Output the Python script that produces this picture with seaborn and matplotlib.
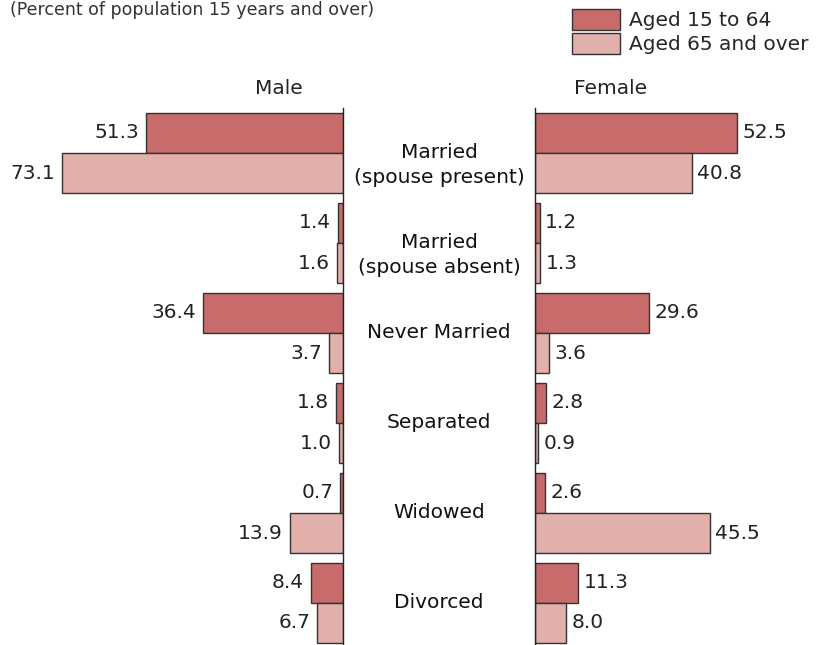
import pandas as pd
import matplotlib
matplotlib.use("Agg")
import matplotlib.pyplot as plt
import seaborn as sns
from matplotlib.patches import Patch

# data
categories = ["Married\n(spouse present)", "Married\n(spouse absent)", "Never Married",
              "Separated", "Widowed", "Divorced"]
groups = ["Aged 15 to 64", "Aged 65 and over"]
male_1564 = [51.3, 1.4, 36.4, 1.8, 0.7, 8.4]
male_65 = [73.1, 1.6, 3.7, 1.0, 13.9, 6.7]
female_1564 = [52.5, 1.2, 29.6, 2.8, 2.6, 11.3]
female_65 = [40.8, 1.3, 3.6, 0.9, 45.5, 8.0]

colors = ["#c86b6b", "#e2b0aa"]
edge = "#333333"
fs = 14.5

def long_df(a, b):
    return pd.DataFrame({
        "cat": categories * 2,
        "group": [groups[0]] * len(a) + [groups[1]] * len(b),
        "value": a + b,
    })

male = long_df(male_1564, male_65)
female = long_df(female_1564, female_65)

sns.set_style("white")
plt.rcParams["font.family"] = ["DejaVu Sans"]

W, H = 819, 645
fig = plt.figure(figsize=(W / 100, H / 100), dpi=100)

top_px, bot_px = 108, 645
px_per_unit = 3.84
mzero, fzero = 343, 535
mleft = 0
ax_m = fig.add_axes([mleft / W, 1 - bot_px / H, (mzero - mleft) / W, (bot_px - top_px) / H])
ax_f = fig.add_axes([fzero / W, 1 - bot_px / H, (W - fzero) / W, (bot_px - top_px) / H])

ylim = (5.467, -0.5)
for ax, df, zero_lim in [(ax_m, male, (mzero - mleft) / px_per_unit),
                         (ax_f, female, (W - fzero) / px_per_unit)]:
    sns.barplot(data=df, y="cat", x="value", hue="group", palette=colors,
                orient="h", width=0.89, edgecolor=edge, linewidth=1,
                saturation=1, legend=False, ax=ax)
    ax.set_ylim(*ylim)
    ax.set_xlim(0, zero_lim)
    ax.set_xlabel("")
    ax.set_ylabel("")
    ax.set_xticks([])
    ax.set_yticks([])
    for s in ax.spines.values():
        s.set_visible(False)

ax_m.invert_xaxis()

# value labels
for cont in ax_f.containers:
    ax_f.bar_label(cont, fmt="%.1f", padding=4, fontsize=fs, color="#222222")
for cont in ax_m.containers:
    for t in ax_m.bar_label(cont, fmt="%.1f", padding=4, fontsize=fs, color="#222222"):
        t.set_ha("right")
        t.xyann = (-5, 0)

ax_m.spines["right"].set_visible(True)
ax_m.spines["right"].set_color("#222222")
ax_m.spines["right"].set_linewidth(1)
ax_f.spines["left"].set_visible(True)
ax_f.spines["left"].set_color("#222222")
ax_f.spines["left"].set_linewidth(1)

# category labels in the middle (first line sits on the group centre)
for i, c in enumerate(categories):
    ypx = 153 + 90 * i + (12 if "\n" in c else 0)
    fig.text((mzero + fzero) / 2 / W, 1 - ypx / H, c, ha="center", va="center",
             fontsize=fs, color="#111111", linespacing=1.35)

fig.text(279 / W, 1 - 88 / H, "Male", ha="center", va="center", fontsize=fs, color="#222222")
fig.text(611 / W, 1 - 88 / H, "Female", ha="center", va="center", fontsize=fs, color="#222222")
fig.text(10 / W, 1 - 15 / H, "(Percent of population 15 years and over)", ha="left",
         va="baseline", fontsize=12.5, color="#333333")

handles = [Patch(facecolor=colors[0], edgecolor=edge, label=groups[0]),
           Patch(facecolor=colors[1], edgecolor=edge, label=groups[1])]
fig.legend(handles=handles, loc="upper right", bbox_to_anchor=(1.004, 1.008), frameon=False,
           fontsize=fs, handlelength=2.35, handleheight=1.25, handletextpad=0.45,
           labelspacing=0.12, borderaxespad=0.3)

fig.savefig("out.png", dpi=100)
